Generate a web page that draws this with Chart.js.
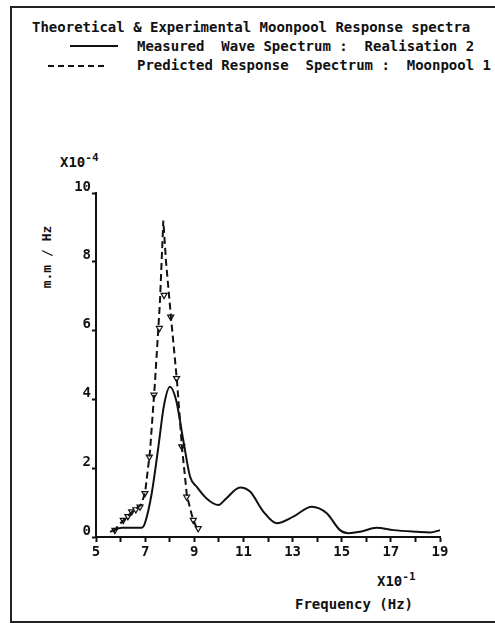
<!DOCTYPE html>
<html>
<head>
<meta charset="utf-8">
<script src="https://cdn.jsdelivr.net/npm/chart.js@4"></script>
<style>
  body { margin: 0; background: #fff; }
  #wrap { position: relative; width: 495px; height: 623px; overflow: hidden; font-family: "DejaVu Sans Mono", monospace; font-size: 14px; font-weight: bold; color: #111; }
  #frame { position: absolute; left: 10px; top: 6px; width: 500px; height: 613px; border-left: 2px solid #222; border-top: 2px solid #222; border-bottom: 2px solid #222; }
  .t { position: absolute; white-space: pre; line-height: 1; }
  .swatch { position: absolute; height: 0; }
  canvas { position: absolute; left: 0; top: 0; }
  sup { font-size: 11px; vertical-align: 6px; }
</style>
</head>
<body>
<div id="wrap">
  <div id="frame"></div>
  <div class="t" style="left:32px; top:20px;">Theoretical &amp; Experimental Moonpool Response spectra</div>
  <div class="swatch" style="left:70px; top:45px; width:48px; border-top:2px solid #111;"></div>
  <div class="t" style="left:137px; top:39px;">Measured  Wave Spectrum :  Realisation 2</div>
  <div class="swatch" style="left:48px; top:65px; width:56px; border-top:2px dashed #111;"></div>
  <div class="t" style="left:137px; top:58px;">Predicted Response  Spectrum :  Moonpool 1</div>
  <div class="t" style="left:60px; top:152px;">X10<sup>-4</sup></div>
  <div class="t" style="left:46px; top:257px; font-size:13px; transform: translate(-50%, -50%) rotate(-90deg);">m.m / Hz</div>
  <div class="t" style="left:377px; top:571px;">X10<sup>-1</sup></div>
  <div class="t" style="left:295px; top:597px;">Frequency (Hz)</div>
  <canvas id="chart" width="495" height="623"></canvas>
</div>
<script>
// measured wave spectrum (solid), x in units of 0.1 Hz, y in units of 1e-4
const measuredX = [5.57, 6.05, 6.6, 6.86, 6.99, 7.27, 7.54, 7.77, 8.01, 8.26, 8.55, 8.83, 9.1, 9.5, 9.98, 10.3, 10.86, 11.27, 11.81, 12.35, 13.03, 13.78, 14.39, 14.93, 15.27, 15.74, 16.42, 17.1, 18.05, 18.6, 19.0];
const measuredY = [0.15, 0.27, 0.27, 0.27, 0.4, 1.28, 2.63, 3.84, 4.37, 3.98, 2.82, 1.75, 1.46, 1.12, 0.93, 1.12, 1.44, 1.32, 0.74, 0.4, 0.59, 0.88, 0.69, 0.2, 0.11, 0.15, 0.27, 0.2, 0.15, 0.13, 0.2];

// predicted response spectrum (dashed)
const predictedX = [5.7, 6.0, 6.45, 6.85, 7.0, 7.2, 7.4, 7.6, 7.74, 7.85, 8.05, 8.3, 8.5, 8.7, 8.95, 9.15];
const predictedY = [0.15, 0.4, 0.72, 0.95, 1.3, 2.5, 4.5, 6.8, 9.2, 8.0, 6.4, 4.5, 2.6, 1.2, 0.5, 0.2];

// triangle markers on the predicted curve
const markerX = [5.77, 6.11, 6.3, 6.45, 6.62, 6.79, 6.99, 7.17, 7.36, 7.58, 7.77, 8.04, 8.28, 8.49, 8.69, 8.96, 9.16];
const markerY = [0.2, 0.49, 0.6, 0.74, 0.8, 0.88, 1.27, 2.33, 4.13, 6.07, 7.03, 6.4, 4.61, 2.63, 1.17, 0.49, 0.25];

const xTicks = [5, 7, 9, 11, 13, 15, 17, 19];
const yTicks = [0, 2, 4, 6, 8, 10];

const toPts = (xs, ys) => xs.map((x, i) => ({ x: x, y: ys[i] }));
const tickFont = { family: 'DejaVu Sans Mono', size: 14, weight: 'bold' };

const ctx = document.getElementById('chart').getContext('2d');
const chart = new Chart(ctx, {
  type: 'scatter',
  data: {
    datasets: [{
      data: toPts(measuredX, measuredY),
      showLine: true,
      borderColor: '#111',
      borderWidth: 2,
      pointRadius: 0,
      cubicInterpolationMode: 'monotone',
    }, {
      data: toPts(predictedX, predictedY),
      showLine: true,
      borderColor: '#111',
      borderWidth: 2,
      borderDash: [7, 4],
      pointRadius: 0,
    }, {
      data: toPts(markerX, markerY),
      showLine: false,
      pointStyle: 'triangle',
      rotation: 180,
      pointRadius: 3.5,
      backgroundColor: '#fff',
      borderColor: '#111',
      borderWidth: 1.2,
    }],
  },
  options: {
    responsive: false,
    animation: false,
    layout: {
      padding: { left: 0, right: 55, top: 193, bottom: 56 }
    },
    plugins: {
      legend: { display: false },
      tooltip: { enabled: false },
    },
    scales: {
      x: {
        type: 'linear',
        min: 5,
        max: 19,
        afterFit: (s) => { s.height = 30; },
        border: { display: true, color: '#111', width: 2 },
        grid: { drawOnChartArea: false, drawTicks: true, tickLength: 5, tickWidth: 2, color: '#111' },
        ticks: {
          stepSize: 1,
          color: '#111',
          font: tickFont,
          padding: 2,
          maxRotation: 0,
          autoSkip: false,
          callback: (v) => xTicks.includes(v) ? String(v) : '',
        },
      },
      y: {
        min: 0,
        max: 10,
        afterFit: (s) => { s.width = 96; },
        border: { display: true, color: '#111', width: 2 },
        grid: { drawOnChartArea: false, drawTicks: true, tickLength: 4, tickWidth: 2, color: '#111' },
        ticks: {
          stepSize: 2,
          color: '#111',
          font: tickFont,
          padding: 1,
          labelOffset: -6,
          callback: (v) => yTicks.includes(v) ? String(v) : '',
        },
      },
    },
  },
});
</script>
</body>
</html>
